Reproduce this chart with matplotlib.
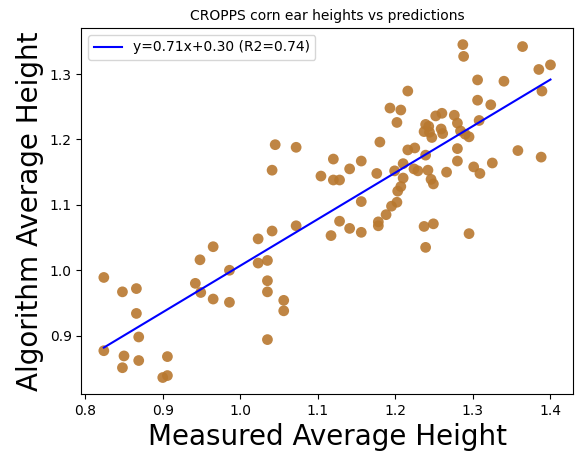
import numpy as np
import matplotlib
matplotlib.use('Agg')
import matplotlib.pyplot as plt

# medidas (x) e previsoes do algoritmo (y)
measured = [0.824, 0.848, 0.866, 0.866, 0.869, 0.824, 0.850, 0.848, 0.869, 0.906,
            0.900, 0.906, 0.948, 0.965, 0.986, 0.942, 0.949, 0.965, 0.986,
            1.023, 1.041, 1.072, 1.023, 1.035, 1.035, 1.035, 1.056, 1.056, 1.035,
            1.117, 1.128, 1.141, 1.156, 1.156, 1.178, 1.178, 1.188, 1.195, 1.202,
            1.045, 1.072, 1.041, 1.120, 1.104, 1.120, 1.128, 1.141, 1.156, 1.180, 1.176,
            1.193, 1.207, 1.202, 1.252, 1.260, 1.276, 1.280, 1.308, 1.239, 1.243,
            1.237, 1.244, 1.247, 1.259, 1.261, 1.284, 1.290, 1.295, 1.216, 1.225,
            1.239, 1.280, 1.280, 1.301, 1.309, 1.199, 1.210, 1.224, 1.229, 1.242,
            1.266, 1.210, 1.246, 1.249, 1.207, 1.203, 1.237, 1.249, 1.295, 1.239,
            1.287, 1.288, 1.364, 1.385, 1.400, 1.306, 1.340, 1.216, 1.389, 1.306,
            1.323, 1.325, 1.358, 1.388]
predicted = [0.989, 0.967, 0.972, 0.934, 0.898, 0.877, 0.869, 0.851, 0.862, 0.868,
             0.836, 0.839, 1.016, 1.036, 1.000, 0.980, 0.966, 0.956, 0.951,
             1.048, 1.060, 1.068, 1.011, 1.015, 0.984, 0.967, 0.954, 0.938, 0.894,
             1.053, 1.075, 1.064, 1.058, 1.105, 1.074, 1.068, 1.085, 1.098, 1.104,
             1.192, 1.188, 1.153, 1.170, 1.144, 1.138, 1.138, 1.155, 1.167, 1.196, 1.148,
             1.248, 1.245, 1.226, 1.236, 1.240, 1.237, 1.225, 1.229, 1.223, 1.220,
             1.212, 1.211, 1.203, 1.216, 1.209, 1.213, 1.208, 1.204, 1.184, 1.187,
             1.176, 1.186, 1.167, 1.158, 1.148, 1.152, 1.163, 1.155, 1.152, 1.153,
             1.150, 1.141, 1.139, 1.132, 1.128, 1.121, 1.067, 1.071, 1.056, 1.035,
             1.345, 1.327, 1.342, 1.307, 1.314, 1.291, 1.289, 1.274, 1.274, 1.260,
             1.253, 1.164, 1.183, 1.173]

# ajuste linear
slope = 0.7115
intercept = 0.2955
r2 = 0.74

x = np.array(measured)
y = np.array(predicted)

fig = plt.figure(figsize=(5.78, 4.51), dpi=100)
ax = fig.add_axes([0.141, 0.126, 0.850, 0.812])

ax.scatter(x, y, s=60, color='#b8782f', alpha=0.9, edgecolors='none')
xs = np.array([x.min(), x.max()])
ax.plot(xs, slope * xs + intercept, color='blue', linewidth=1.5,
        label=f'y={slope:.2f}x+{intercept:.2f} (R2={r2:.2f})')

ax.set_title('CROPPS corn ear heights vs predictions', fontsize=10)
ax.set_xlabel('Measured Average Height', fontsize=20)
ax.set_ylabel('Algorithm Average Height', fontsize=20)
ax.set_xticks([0.8, 0.9, 1.0, 1.1, 1.2, 1.3, 1.4])
ax.set_yticks([0.9, 1.0, 1.1, 1.2, 1.3])
ax.legend(loc='upper left')

fig.savefig('out.png', dpi=100)
